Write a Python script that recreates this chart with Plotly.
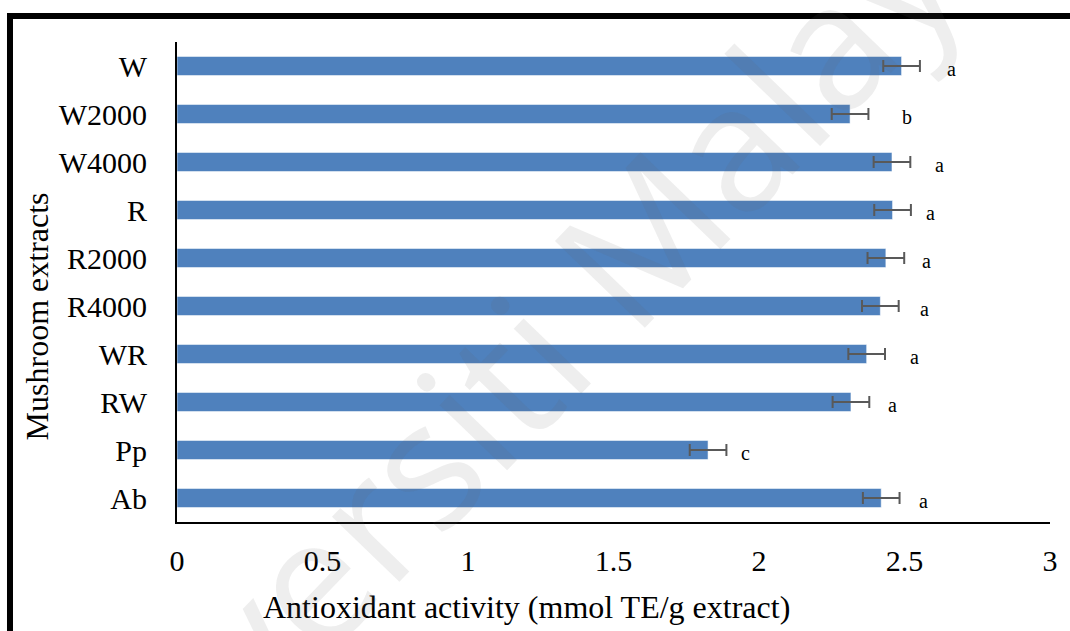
import plotly.graph_objects as go

# Mushroom extract samples, top to bottom
extracts = ["W", "W2000", "W4000", "R", "R2000", "R4000", "WR", "RW", "Pp", "Ab"]
# Antioxidant activity (mmol TE/g extract)
activity = [2.49, 2.313, 2.457, 2.459, 2.436, 2.417, 2.37, 2.316, 1.825, 2.42]
# Standard deviation
sd = [0.063, 0.063, 0.063, 0.063, 0.063, 0.063, 0.063, 0.063, 0.063, 0.063]
# Significance letters and where they sit along the x axis
letters = ["a", "b", "a", "a", "a", "a", "a", "a", "c", "a"]
letter_x = [2.663, 2.507, 2.620, 2.591, 2.576, 2.570, 2.533, 2.460, 1.955, 2.564]

x_ticks = [0, 0.5, 1, 1.5, 2, 2.5, 3]
x_tick_text = ["0", "0.5", "1", "1.5", "2", "2.5", "3"]

SERIF = "Liberation Serif, Times New Roman, serif"

fig = go.Figure()
fig.add_trace(go.Bar(
    y=extracts,
    x=activity,
    orientation="h",
    width=0.4,
    marker=dict(color="#4F81BD", line=dict(color="rgba(255,255,255,0.55)", width=1)),
    error_x=dict(type="data", array=sd, visible=True, color="#595959", thickness=2, width=6),
    showlegend=False,
))

for cat, lx, lt in zip(extracts, letter_x, letters):
    fig.add_annotation(x=lx, y=cat, text=lt, showarrow=False, xref="x", yref="y",
                       xanchor="center", yanchor="middle", yshift=-3,
                       font=dict(family=SERIF, size=20, color="black"))

# Axis titles
fig.add_annotation(x=0.40, y=-0.178, xref="paper", yref="paper",
                   xanchor="center", yanchor="middle",
                   text="Antioxidant activity (mmol TE/g extract)", showarrow=False,
                   font=dict(family=SERIF, size=32, color="black"))
fig.add_annotation(x=-0.160, y=0.429, xref="paper", yref="paper", textangle=-90,
                   xanchor="center", yanchor="middle",
                   text="Mushroom extracts", showarrow=False,
                   font=dict(family=SERIF, size=32, color="black"))

# Watermark
fig.add_annotation(x=0.373, y=0.302, xref="paper", yref="paper", textangle=-46,
                   xanchor="center", yanchor="middle",
                   text="Universiti Malaya", showarrow=False,
                   font=dict(family="Open Sans, Liberation Sans, sans-serif", size=175,
                             color="rgba(98,98,98,0.11)"))

# Outer frame
fig.add_shape(type="rect", xref="paper", yref="paper",
              x0=-0.1913, x1=1.2, y0=-0.4, y1=1.0542,
              line=dict(color="black", width=6))

fig.update_layout(
    width=1070, height=631,
    margin=dict(l=177, r=20, t=42, b=109),
    paper_bgcolor="white", plot_bgcolor="white",
    bargap=0.6,
    xaxis=dict(range=[0, 3], tickvals=x_ticks, ticktext=x_tick_text,
               showgrid=False, zeroline=False,
               showline=True, linecolor="black", linewidth=2,
               ticks="outside", ticklen=11, tickcolor="rgba(0,0,0,0)",
               tickfont=dict(family=SERIF, size=30, color="black")),
    yaxis=dict(categoryorder="array", categoryarray=extracts, autorange="reversed",
               showgrid=False, zeroline=False,
               showline=True, linecolor="black", linewidth=2,
               ticks="outside", ticklen=22, tickcolor="rgba(0,0,0,0)",
               tickfont=dict(family=SERIF, size=30, color="black")),
)

fig.write_html("out.html")
